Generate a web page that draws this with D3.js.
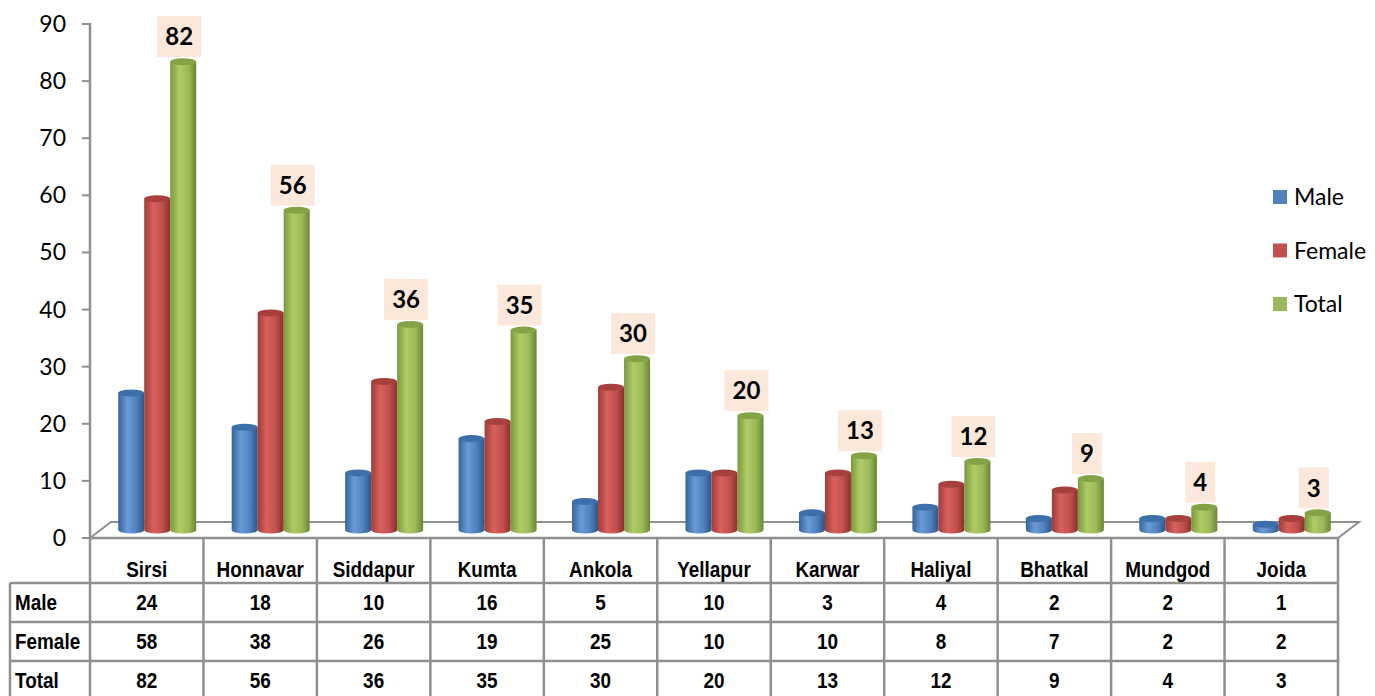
<!DOCTYPE html>
<html><head><meta charset="utf-8">
<script src="https://cdn.jsdelivr.net/npm/d3@7/dist/d3.min.js"></script>
<style>body{margin:0;background:#fff}svg{display:block}</style>
</head><body><svg id="c" width="1375" height="696"></svg>
<script>
const categories = ["Sirsi","Honnavar","Siddapur","Kumta","Ankola","Yellapur","Karwar","Haliyal","Bhatkal","Mundgod","Joida"];
const seriesNames = ["Male","Female","Total"];
const male   = [24,18,10,16,5,10,3,4,2,2,1];
const female = [58,38,26,19,25,10,10,8,7,2,2];
const total  = [82,56,36,35,30,20,13,12,9,4,3];
const yTicks = [0,10,20,30,40,50,60,70,80,90];
const seriesValues = [male, female, total];

const colors = {
  Male:   {dark:"#35649c", base:"#4f81bd", light:"#6a9bd6", top:"#3d6fab", edge:"#2c5488"},
  Female: {dark:"#9e3c39", base:"#c0504d", light:"#d9615d", top:"#a6403d", edge:"#8a302d"},
  Total:  {dark:"#7b983f", base:"#9bbb59", light:"#aecb66", top:"#83a446", edge:"#6a8534"}
};

const svg = d3.select("#c");
const axisX = 90, plotRight = 1338, yTop = 24, yZero = 538;
const depthX = 21, depthY = -16;
const grey = "#8f8f8f";
const labelFont = "Lato, 'Open Sans', sans-serif";
const tableFont = "'Liberation Sans',Arial,sans-serif";
const narrow = 0.86;

const y = d3.scaleLinear().domain([0,90]).range([yZero, yTop]);
const x = d3.scaleBand().domain(categories).range([axisX, plotRight]).paddingInner(0).paddingOuter(0);
const clusterW = 78;
const xs = d3.scaleBand().domain(seriesNames).range([0, clusterW]);

// gradients
const defs = svg.append("defs");
seriesNames.forEach(s => {
  const g = defs.append("linearGradient").attr("id","g"+s).attr("x1","0").attr("x2","1").attr("y1","0").attr("y2","0");
  g.append("stop").attr("offset","0%").attr("stop-color",colors[s].dark);
  g.append("stop").attr("offset","35%").attr("stop-color",colors[s].light);
  g.append("stop").attr("offset","70%").attr("stop-color",colors[s].base);
  g.append("stop").attr("offset","100%").attr("stop-color",colors[s].edge);
});

// floor
svg.append("path")
  .attr("d", `M${axisX},${yZero} L${plotRight},${yZero} L${plotRight+depthX},${yZero+depthY} L${axisX+depthX},${yZero+depthY} Z`)
  .attr("fill","#fff").attr("stroke",grey).attr("stroke-width",2);

// y axis
svg.append("line").attr("x1",axisX).attr("x2",axisX).attr("y1",y(90)-1).attr("y2",yZero)
  .attr("stroke",grey).attr("stroke-width",2.5);
svg.selectAll(".ytick").data(yTicks).join("line")
  .attr("x1",axisX-8).attr("x2",axisX).attr("y1",d=>y(d)).attr("y2",d=>y(d))
  .attr("stroke",grey).attr("stroke-width",2);
svg.selectAll(".ylab").data(yTicks).join("text")
  .attr("x",66).attr("y",d=>y(d)).attr("dy","0.35em").attr("text-anchor","end")
  .attr("font-family",labelFont).attr("font-size",23).attr("fill","#000").text(d=>d);

// cylinders
const shiftX = depthX/2, shiftY = depthY/2;
const rx = xs.bandwidth()/2, ry = 3.5;
categories.forEach((c,i) => {
  const cx0 = x(c) + x.bandwidth()/2 - clusterW/2 + shiftX;
  seriesNames.forEach((s,j) => {
    const v = seriesValues[j][i];
    const x0 = cx0 + xs(s), x1 = x0 + xs.bandwidth();
    const yb = y(0) + shiftY, yt = y(v) + shiftY;
    const g = svg.append("g");
    g.append("path")
      .attr("d", `M${x0},${yt} L${x0},${yb} A${rx},${ry} 0 0 0 ${x1},${yb} L${x1},${yt} Z`)
      .attr("fill",`url(#g${s})`);
    g.append("ellipse").attr("cx",(x0+x1)/2).attr("cy",yt).attr("rx",rx).attr("ry",ry)
      .attr("fill",colors[s].top);
    if (s === "Total") {
      const txt = String(v);
      const bw = txt.length > 1 ? 44 : 30, bh = 41;
      const bcx = (x0+x1)/2 - 4;
      const bBottom = yt - ry - 1;
      svg.append("rect").attr("x",bcx-bw/2).attr("y",bBottom-bh).attr("width",bw).attr("height",bh)
        .attr("fill","#fce8da");
      svg.append("text").attr("x",bcx).attr("y",bBottom-bh/2).attr("dy","0.36em")
        .attr("text-anchor","middle").attr("font-family",labelFont).attr("font-weight","bold")
        .attr("font-size",24).attr("fill","#000").text(txt);
    }
  });
});

// table
const rowTop = 583, rowH = 39, leftX = 10;
const tbl = svg.append("g");
const lineAttr = sel => sel.attr("stroke",grey).attr("stroke-width",2.5);
[rowTop, rowTop+rowH, rowTop+2*rowH].forEach(yy => {
  lineAttr(tbl.append("line").attr("x1",leftX).attr("x2",plotRight).attr("y1",yy).attr("y2",yy));
});
lineAttr(tbl.append("line").attr("x1",axisX).attr("x2",plotRight).attr("y1",yZero).attr("y2",yZero));
lineAttr(tbl.append("line").attr("x1",leftX).attr("x2",leftX).attr("y1",rowTop).attr("y2",700));
categories.forEach(c => {
  lineAttr(tbl.append("line").attr("x1",x(c)).attr("x2",x(c)).attr("y1",yZero).attr("y2",700));
});
lineAttr(tbl.append("line").attr("x1",plotRight).attr("x2",plotRight).attr("y1",yZero).attr("y2",700));

function tText(px, py, str, anchor) {
  tbl.append("text")
    .attr("transform",`translate(${px},${py}) scale(${narrow},1)`)
    .attr("dy","0.35em").attr("text-anchor",anchor)
    .attr("font-family",tableFont).attr("font-weight","bold")
    .attr("font-size",22).attr("fill","#000").text(str);
}
categories.forEach(c => tText(x(c)+x.bandwidth()/2, (yZero+rowTop)/2+9, c, "middle"));
seriesNames.forEach((s,j) => {
  const cy = rowTop + rowH*j + rowH/2;
  tText(15, cy, s, "start");
  seriesValues[j].forEach((v,i) => tText(x(categories[i])+x.bandwidth()/2, cy, v, "middle"));
});

// legend
const legY0 = 197, legStep = 53.5;
seriesNames.forEach((s,j) => {
  const cy = legY0 + j*legStep;
  svg.append("rect").attr("x",1273).attr("y",cy-7).attr("width",14).attr("height",14).attr("fill",colors[s].base);
  svg.append("text").attr("x",1294).attr("y",cy).attr("dy","0.35em")
    .attr("font-family",labelFont).attr("font-size",23).attr("fill","#000").text(s);
});
</script></body></html>
